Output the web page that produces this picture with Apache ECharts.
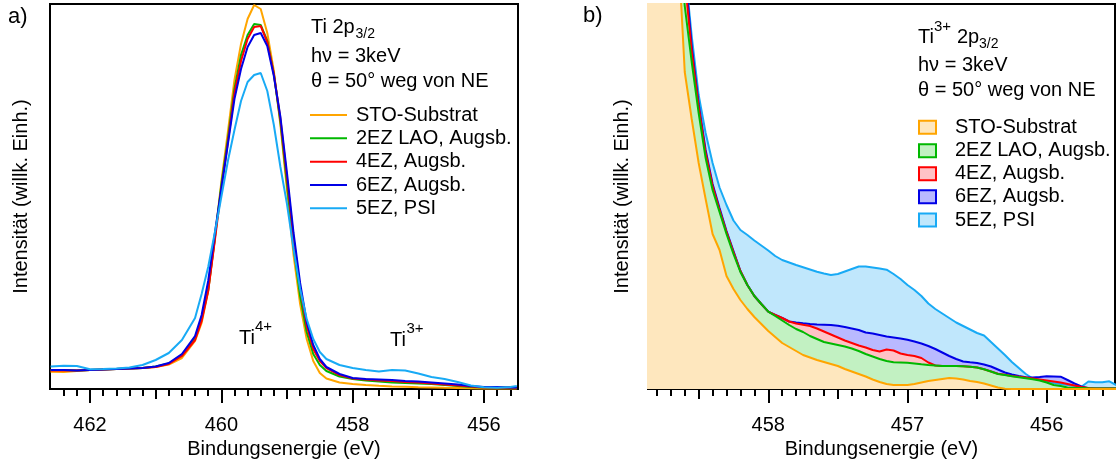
<!DOCTYPE html>
<html>
<head>
<meta charset="utf-8">
<script src="https://cdn.jsdelivr.net/npm/echarts@6/dist/echarts.min.js"></script>
<style>
  html, body { margin: 0; padding: 0; background: #fff; }
  #chart { width: 1118px; height: 465px; }
</style>
</head>
<body>
<div id="chart"></div>
<script>
// ---- Panel a: full Ti 2p3/2 line, binding energy (eV) and intensity (arb. units)
const energyA = [462.6, 462.4, 462.2, 462.0, 461.8, 461.6, 461.4, 461.2, 461.0, 460.8, 460.6, 460.4, 460.3, 460.2, 460.1, 460.0,
  459.9, 459.8, 459.7, 459.6, 459.5, 459.4, 459.3, 459.2, 459.1, 459.0, 458.9, 458.8, 458.7, 458.6, 458.5, 458.4,
  458.2, 458.0, 457.8, 457.6, 457.4, 457.2, 457.0, 456.8, 456.6, 456.4, 456.2, 456.0, 455.8, 455.6, 455.5];
const stoA = [17.3, 17, 18, 19, 19.5, 20, 20.5, 21, 22, 24.5, 31, 48, 66, 98, 150, 207,
  257, 309, 345, 370, 384, 380, 356, 318, 264, 199, 134, 85, 50, 28, 16, 10.5,
  6.5, 5, 4, 3.2, 2.6, 2.2, 1.8, 1.5, 1.2, 1, 0.8, 0.6, 0.5, 0.5, 0.5];
const lao2A = [19, 19, 18.5, 19, 19.5, 20, 20.5, 21, 22.5, 25.5, 34, 51, 70, 99, 150, 204,
  250, 300, 334, 354, 365, 364, 348, 315, 267, 205, 142, 93, 57, 35, 24, 18,
  12.5, 10, 8.5, 7.5, 6.5, 6, 5.5, 5, 4, 3, 2, 1.5, 1.5, 1.5, 1.5];
const ez4A = [18.5, 18.5, 18.5, 19, 19.5, 20, 20.5, 21, 22, 25, 33, 49, 68, 98, 148, 200,
  247, 296, 328, 350, 362, 363, 347, 315, 270, 211, 151, 101, 63, 40, 28, 21,
  14, 10.5, 9.5, 8.5, 8, 7, 6.5, 5.5, 4.5, 3.5, 2.5, 1.5, 1.5, 1.5, 1.5];
const ez6A = [19, 19, 18.5, 19, 19.5, 20, 20.5, 21, 22.5, 26, 35, 53, 74, 108, 155, 200,
  245, 290, 320, 342, 354, 356, 343, 313, 272, 216, 156, 106, 67, 44, 30, 22,
  15, 11, 10, 9.5, 9, 8, 7.5, 6.5, 5.5, 4.5, 3, 2, 2, 1.5, 1.5];
const psiA = [22.5, 23.3, 23, 19.7, 20, 20.5, 21.5, 24, 29, 36, 49, 71, 95, 122, 156, 192,
  228, 259, 288, 307, 314, 316, 298, 264, 222, 185, 140, 100, 70, 50, 37, 30,
  24, 21, 19, 17.5, 19, 18.5, 15.5, 12, 10, 7, 3.5, 1.7, 1.3, 2, 3];

// ---- Panel b: Ti3+ shoulder, binding energy (eV) and intensity (arb. units)
const energyB = [458.90, 458.85, 458.80, 458.75, 458.70, 458.65, 458.60, 458.55, 458.50, 458.45, 458.40, 458.35, 458.30, 458.25,
  458.20, 458.15, 458.10, 458.05, 458.00, 457.95, 457.90, 457.85, 457.80, 457.75, 457.70, 457.65, 457.60, 457.55,
  457.50, 457.45, 457.40, 457.35, 457.30, 457.25, 457.20, 457.15, 457.10, 457.05, 457.00, 456.95, 456.90, 456.85,
  456.80, 456.75, 456.70, 456.65, 456.60, 456.55, 456.50, 456.45, 456.40, 456.35, 456.30, 456.25, 456.20, 456.15,
  456.10, 456.05, 456.00, 455.95, 455.90, 455.85, 455.80, 455.75, 455.70, 455.65, 455.60, 455.55, 455.50];
const stoB = [900, 820, 740, 660, 560, 450, 317, 270, 226, 190, 155, 139, 113, 100,
  89, 80, 72, 65, 58, 52, 46, 42, 38, 34, 31.5, 29, 27, 25,
  23, 20, 17.5, 15, 12.5, 9.5, 7, 5, 4, 4, 4, 5, 6.5, 8,
  9, 10, 11, 10.5, 9.5, 8, 7, 5.5, 3.5, 1.5, 0.3, 0, 0, 0,
  0, 0, 0, 0, 0, 0, 0, 0, 0, 0, 0, 0, 0];
const lao2B = [920, 840, 760, 680, 590, 480, 383, 327, 276, 231, 199, 177, 155, 135,
  117, 104, 93, 85, 77.3, 73, 68.5, 64, 60, 57, 53, 50, 47, 45.5,
  44, 42.5, 40.5, 38, 35, 32.5, 30, 28, 26.7, 26.5, 26.3, 25.5, 24.7, 24,
  23.5, 23, 23, 23, 22.7, 22.3, 21.5, 19.7, 17.5, 15, 14, 12.7, 11.7, 10.7,
  9.7, 8.5, 6.5, 4, 3, 1.5, 1, 1, 0.7, 0.5, 0.5, 0.5, 0.5];
const ez4B = [940, 860, 780, 700, 610, 500, 410, 338, 282, 236, 203, 179, 157, 137,
  118, 104, 93, 85, 77.3, 74, 71, 67.5, 65.5, 64.2, 63, 60.5, 57.5, 54.5,
  51.5, 48.5, 46, 43.5, 41.5, 39, 37.5, 39.5, 38.5, 35.5, 34, 33, 31, 26.5,
  23.5, 23, 23, 23, 22.7, 22.3, 21.5, 19.7, 17.5, 15.2, 14.2, 13, 12.3, 11.5,
  10.5, 9.5, 8.5, 7.5, 6.5, 5, 3.5, 2, 1, 0.5, 0.5, 0.5, 0.5];
const ez6B = [950, 870, 790, 710, 620, 510, 422, 343, 285, 239, 205, 181, 158, 138,
  118, 104, 93, 85, 77.3, 74, 71, 67.5, 66.5, 65.7, 65, 64.5, 64.3, 64,
  63.2, 62, 60.5, 59, 56.5, 55.5, 54, 52.5, 51.5, 50.5, 49.3, 47.5, 45.5, 43,
  40, 36.5, 33, 30, 27.5, 26.7, 26, 24.5, 22.5, 19.5, 16.5, 14.5, 13, 11.8,
  11.5, 12, 12.7, 12.5, 12.3, 9, 5.5, 2.5, 0.7, 0.5, 0.5, 0.5, 0.5];
const psiB = [960, 880, 800, 720, 630, 520, 423, 353, 294, 256, 226, 201.5, 184, 168.5,
  159, 154, 148.5, 143.5, 138.5, 133, 129, 126.5, 124, 121.8, 119.5, 117.2, 115.5, 114,
  115, 117.5, 120, 122.5, 122.5, 121.5, 120.5, 119.3, 115, 110, 104, 99, 93, 85.5,
  80, 75.5, 71, 66.5, 63, 59.5, 56, 53.5, 47, 40.5, 34, 27, 21, 15,
  10.5, 9, 7.5, 6, 5, 4, 3, 2.3, 7.5, 6.7, 6.7, 7.7, 4];

// ---- Sample names and colours
const sampleNames = ['STO-Substrat', '2EZ LAO, Augsb.', '4EZ, Augsb.', '6EZ, Augsb.', '5EZ, PSI'];
const lineColors = ['#FFA500', '#00B800', '#FF0000', '#0000E6', '#18AAF5'];
const fillColors = ['#FEE7BE', '#C2F1C2', '#FFC2C6', '#B9B9FF', '#C0E7FC'];

// ---- Axis ticks (eV)
const majorTicksA = [462, 460, 458, 456];
const midTicksA = [461, 459, 457];
const majorTicksB = [458, 457, 456];
const midTicksB = [458.5, 457.5, 456.5];

function stepTicks(from, to, step) {
  const out = [];
  for (let v = from; v <= to + 1e-9; v += step) out.push(Math.round(v * 100) / 100);
  return out;
}
const minorTicksA = stepTicks(455.6, 462.4, 0.2);
const minorTicksB = stepTicks(455.6, 458.8, 0.1);

const FONT = '"Liberation Sans", Arial, sans-serif';
const rangeA = { min: 455.482, max: 462.609 };
const rangeB = { min: 455.509, max: 458.864 };

// three stacked bottom axes per panel: labelled major ticks, mid ticks, minor ticks
function bottomAxes(gridIndex, range, major, mid, minor) {
  const base = {
    type: 'value', gridIndex, min: range.min, max: range.max, inverse: true,
    position: 'bottom', splitLine: { show: false }
  };
  return [
    Object.assign({}, base, {
      axisLine: { show: true, onZero: false, lineStyle: { color: '#000', width: 2 } },
      axisTick: { show: true, customValues: major, length: 14, lineStyle: { color: '#000', width: 2 } },
      axisLabel: { show: true, customValues: major, margin: 26, fontSize: 20, fontFamily: FONT, color: '#000' },
      name: 'Bindungsenergie (eV)', nameLocation: 'middle', nameGap: 48,
      nameTextStyle: { fontSize: 20, fontFamily: FONT, color: '#000' }
    }),
    Object.assign({}, base, {
      axisLine: { show: false, onZero: false },
      axisTick: { show: true, customValues: mid, length: 10, lineStyle: { color: '#000', width: 2 } },
      axisLabel: { show: false }
    }),
    Object.assign({}, base, {
      axisLine: { show: false, onZero: false },
      axisTick: { show: true, customValues: minor, length: 7, lineStyle: { color: '#000', width: 2 } },
      axisLabel: { show: false }
    })
  ];
}

const intensityAxis = gridIndex => ({ type: 'value', gridIndex, min: 0, max: 385, show: false });

const pair = (xs, ys) => xs.map((x, i) => [x, ys[i]]);
const valuesA = [stoA, lao2A, ez4A, ez6A, psiA];
const valuesB = [stoB, lao2B, ez4B, ez6B, psiB];

const series = [];
// panel a: plain lines
[0, 1, 2, 3, 4].forEach(i => {
  series.push({
    type: 'line', name: sampleNames[i], xAxisIndex: 0, yAxisIndex: 0,
    data: pair(energyA, valuesA[i]), showSymbol: false, silent: true,
    lineStyle: { color: lineColors[i], width: 2 }
  });
});
// panel b: filled curves, back to front (5EZ PSI ... STO)
[4, 3, 2, 1, 0].forEach(i => {
  series.push({
    type: 'line', name: sampleNames[i], xAxisIndex: 3, yAxisIndex: 1,
    data: pair(energyB, valuesB[i]), showSymbol: false, silent: true,
    lineStyle: { color: lineColors[i], width: 2 },
    areaStyle: { color: fillColors[i], opacity: 1 }
  });
});

// annotation texts
function txt(x, y, text, size) {
  return { type: 'text', x, y, silent: true,
    style: { text, fontSize: size || 20, fontFamily: FONT, fill: '#000', align: 'left', verticalAlign: 'middle' } };
}
function vtitle(x, y, text) {
  return { type: 'text', x, y, rotation: Math.PI / 2, silent: true,
    style: { text, fontSize: 20, fontFamily: FONT, fill: '#000', align: 'center', verticalAlign: 'middle' } };
}
const graphics = [
  vtitle(21.5, 196.5, 'Intensität (willk. Einh.)'),
  vtitle(622.5, 196.5, 'Intensität (willk. Einh.)'),
  txt(8, 17, 'a)', 22),
  txt(311, 27.5, 'Ti 2p'), txt(355.5, 34, '3/2', 14),
  txt(311, 56, 'hν = 3keV'),
  txt(311, 81, 'θ = 50° weg von NE'),
  txt(239, 338, 'Ti'), txt(255, 327, '4+', 15),
  txt(390, 340, 'Ti'), txt(406.5, 329, '3+', 15),
  txt(583, 16, 'b)', 22),
  txt(918, 37.3, 'Ti'), txt(934, 27, '3+', 15), txt(957, 37.3, '2p'), txt(979, 44, '3/2', 14),
  txt(918, 65.3, 'hν = 3keV'),
  txt(918, 90.3, 'θ = 50° weg von NE')
];
const legendRowsA = [115, 138.3, 161.7, 185, 208.3];
const legendRowsB = [127.3, 150.7, 173.7, 196.7, 220];
sampleNames.forEach((name, i) => {
  graphics.push({ type: 'line', silent: true,
    shape: { x1: 310, y1: legendRowsA[i], x2: 347, y2: legendRowsA[i] },
    style: { stroke: lineColors[i], lineWidth: 2 } });
  graphics.push(txt(356, legendRowsA[i], name));
  graphics.push({ type: 'rect', silent: true,
    shape: { x: 919, y: legendRowsB[i] - 6.5, width: 17, height: 13 },
    style: { fill: fillColors[i], stroke: lineColors[i], lineWidth: 2 } });
  graphics.push(txt(955, legendRowsB[i], name));
});

const chart = echarts.init(document.getElementById('chart'));
chart.setOption({
  animation: false,
  backgroundColor: '#fff',
  grid: [
    { left: 50, top: 4, width: 468, height: 385, show: true, borderColor: '#000', borderWidth: 2, backgroundColor: 'transparent' },
    { left: 648, top: 4, width: 467, height: 385, show: true, borderColor: '#000', borderWidth: 2, backgroundColor: 'transparent' }
  ],
  xAxis: [].concat(
    bottomAxes(0, rangeA, majorTicksA, midTicksA, minorTicksA),
    bottomAxes(1, rangeB, majorTicksB, midTicksB, minorTicksB)
  ),
  yAxis: [intensityAxis(0), intensityAxis(1)],
  series,
  graphic: graphics
});
</script>
</body>
</html>
